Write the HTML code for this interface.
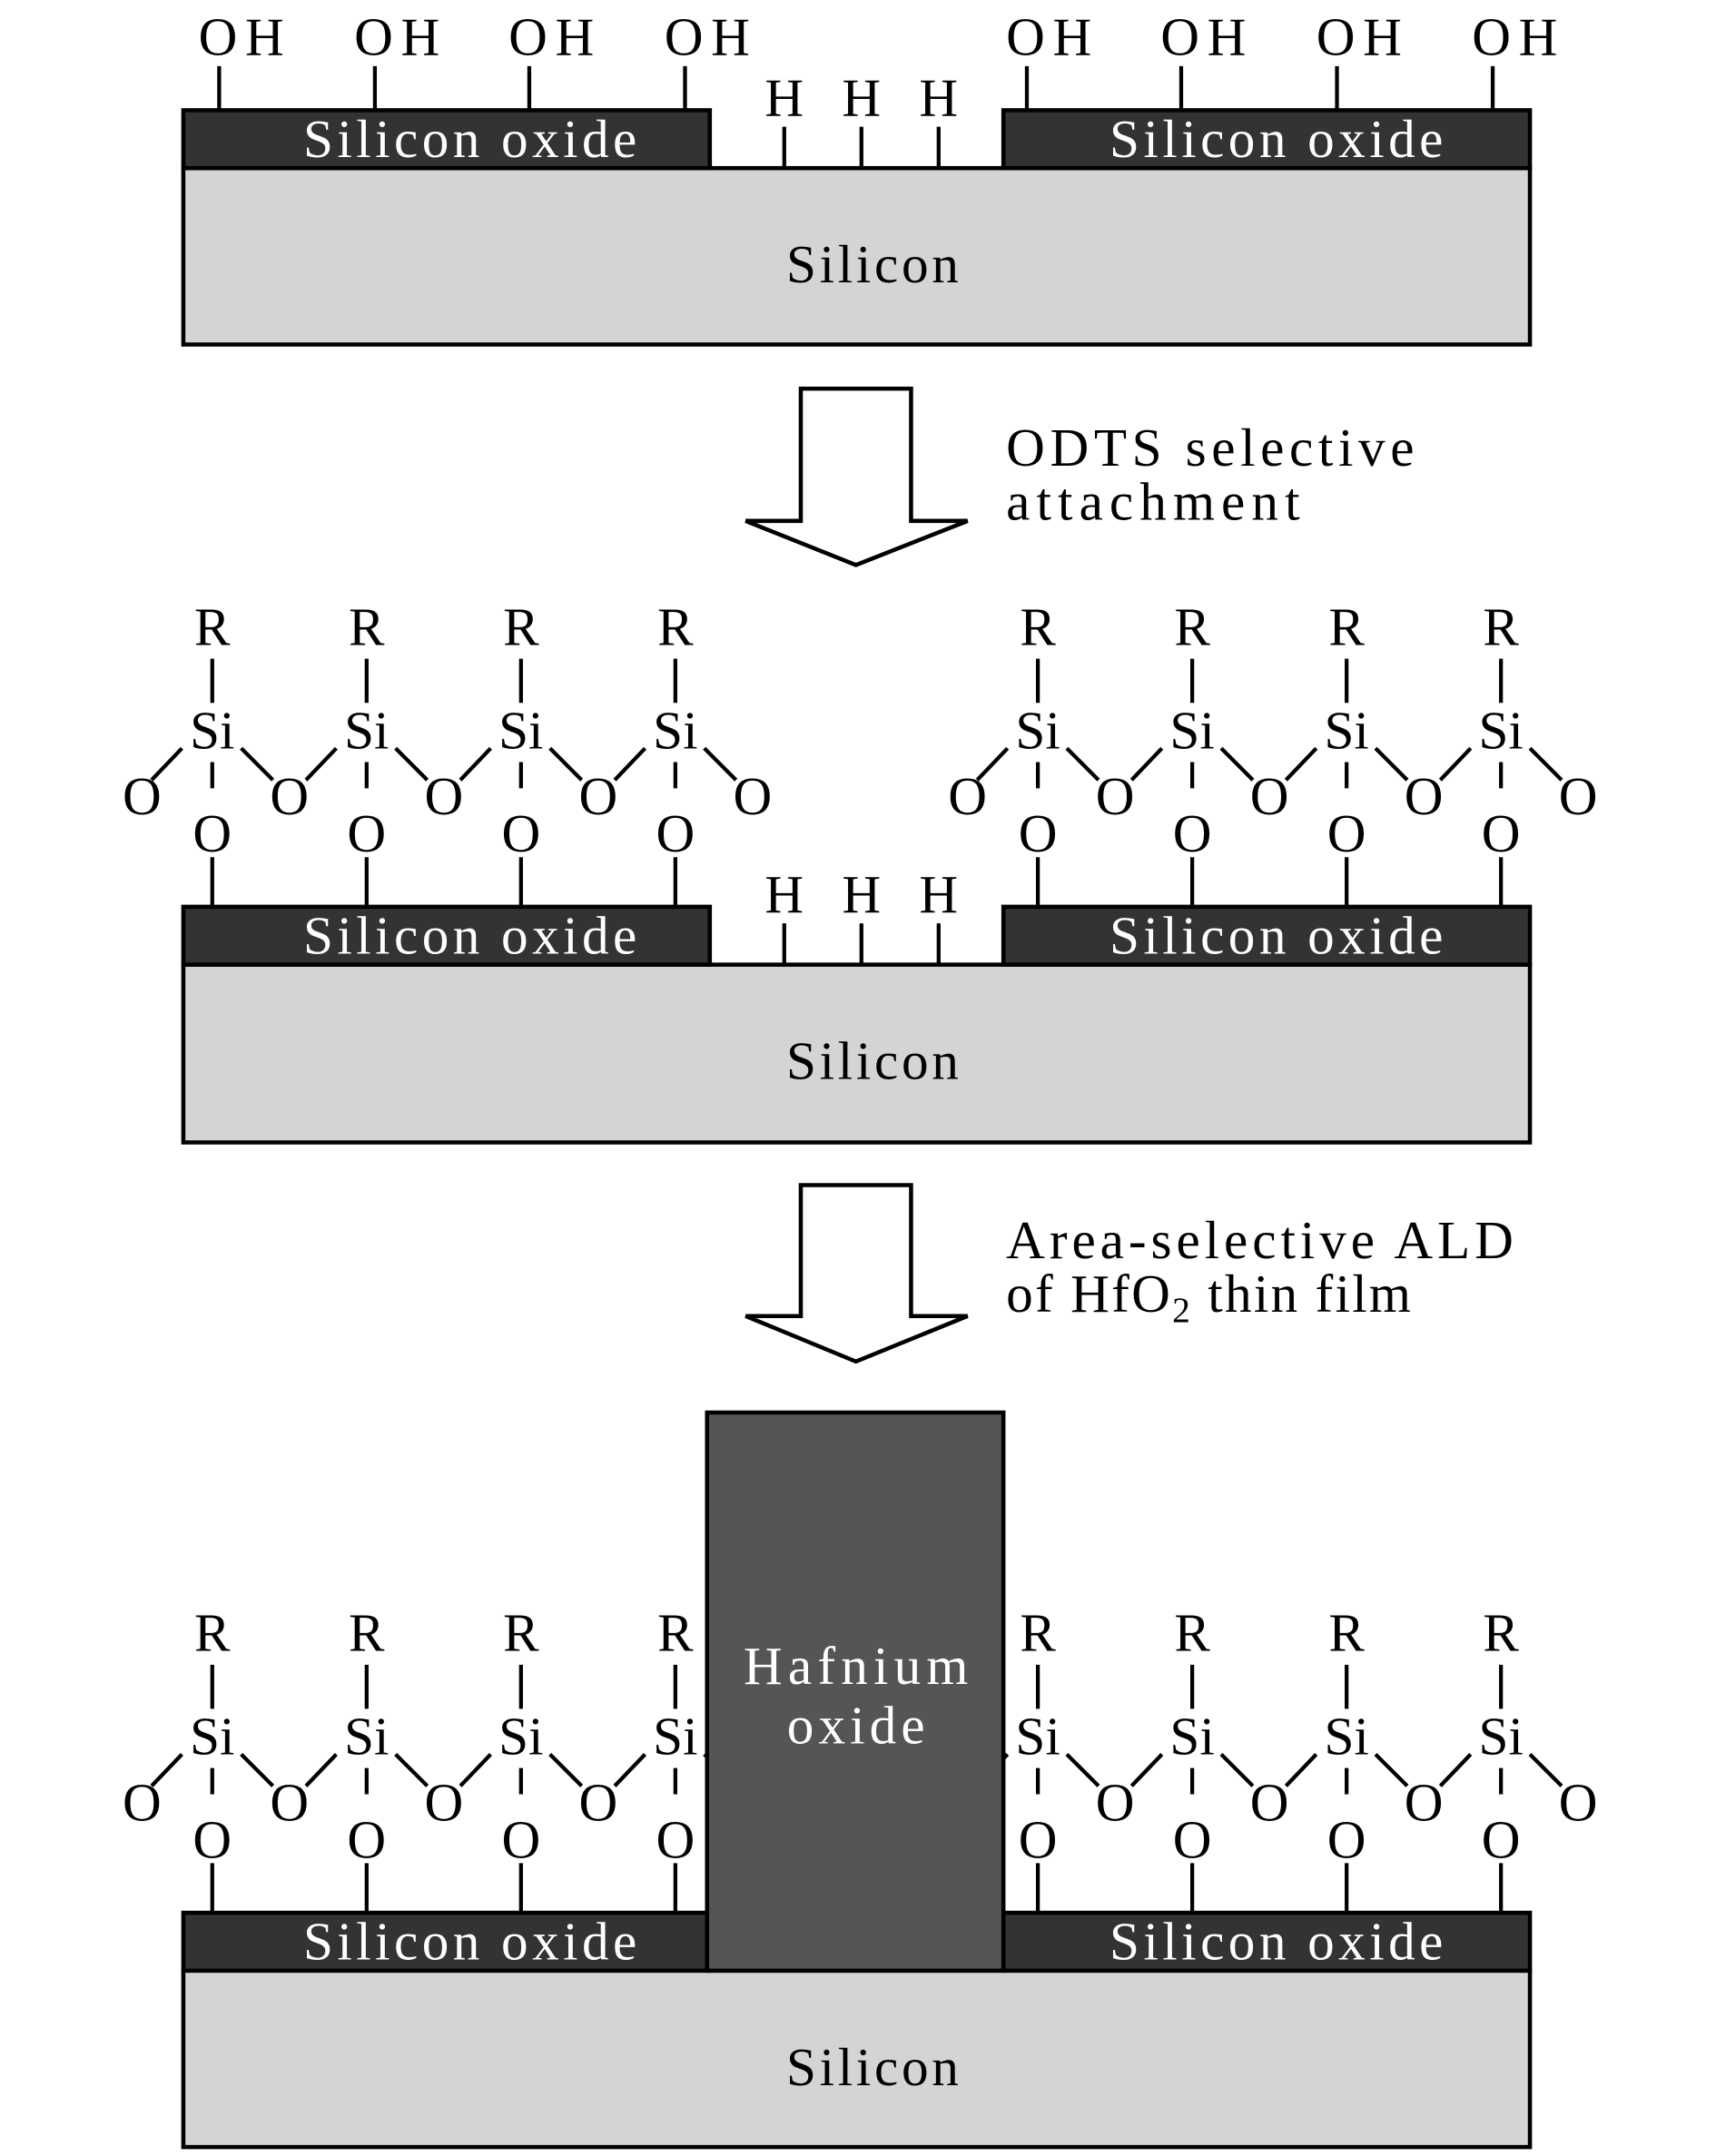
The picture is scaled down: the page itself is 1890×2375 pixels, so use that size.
<!DOCTYPE html>
<html><head><meta charset="utf-8"><style>
html,body{margin:0;padding:0;background:#fff;}
svg{display:block;}
text{font-family:"Liberation Serif",serif;font-size:39px;}
</style></head><body>
<svg width="1890" height="2375" viewBox="0 0 1245 1564.5" xmlns="http://www.w3.org/2000/svg">
<g stroke="#000" stroke-width="2.8" fill="none">
<line x1="159" y1="48" x2="159" y2="80"/><line x1="272" y1="48" x2="272" y2="80"/><line x1="384" y1="48" x2="384" y2="80"/><line x1="497" y1="48" x2="497" y2="80"/>
<line x1="745" y1="48" x2="745" y2="80"/><line x1="857" y1="48" x2="857" y2="80"/><line x1="970" y1="48" x2="970" y2="80"/><line x1="1083" y1="48" x2="1083" y2="80"/>
<line x1="569" y1="92" x2="569" y2="122"/><line x1="625" y1="92" x2="625" y2="122"/><line x1="681" y1="92" x2="681" y2="122"/>
</g>
<rect x="133" y="122" width="977" height="128" fill="#d4d4d4" stroke="#000" stroke-width="3"/>
<rect x="133" y="80" width="382" height="42" fill="#333" stroke="#000" stroke-width="3"/>
<rect x="728" y="80" width="382" height="42" fill="#333" stroke="#000" stroke-width="3"/>
<g text-anchor="middle" fill="#000">
<text x="175" y="40" textLength="62">OH</text><text x="288" y="40" textLength="62">OH</text><text x="400" y="40" textLength="62">OH</text><text x="513" y="40" textLength="62">OH</text>
<text x="761" y="40" textLength="62">OH</text><text x="873" y="40" textLength="62">OH</text><text x="986" y="40" textLength="62">OH</text><text x="1099" y="40" textLength="62">OH</text>
<text x="569" y="84">H</text><text x="625" y="84">H</text><text x="681" y="84">H</text>
<text x="633" y="205" textLength="125">Silicon</text>
</g>
<g text-anchor="middle" fill="#fff">
<text x="341" y="114" textLength="242">Silicon oxide</text>
<text x="926" y="114" textLength="242">Silicon oxide</text>
</g>
<polygon points="581,282 661,282 661,378 702,378 621,410 541,378 581,378" fill="#fff" stroke="#000" stroke-width="3"/>
<text x="730" y="338" textLength="296">ODTS selective</text>
<text x="730" y="377" textLength="213">attachment</text>

<g stroke="#000" stroke-width="2.8" fill="none">
<line x1="569" y1="670" x2="569" y2="700"/><line x1="625" y1="670" x2="625" y2="700"/><line x1="681" y1="670" x2="681" y2="700"/>
</g>
<rect x="133" y="700" width="977" height="129" fill="#d4d4d4" stroke="#000" stroke-width="3"/>
<rect x="133" y="658" width="382" height="42" fill="#333" stroke="#000" stroke-width="3"/>
<rect x="728" y="658" width="382" height="42" fill="#333" stroke="#000" stroke-width="3"/>
<g text-anchor="middle">
<text x="569" y="662">H</text><text x="625" y="662">H</text><text x="681" y="662">H</text>
<text x="633" y="783" textLength="125">Silicon</text>
</g>
<g text-anchor="middle" fill="#fff">
<text x="341" y="692" textLength="242">Silicon oxide</text>
<text x="926" y="692" textLength="242">Silicon oxide</text>
</g>

<g stroke="#000" stroke-width="2.8" fill="none">
<path d="M154 478V510M132 543L110 566M175 543L198 566M154 553V572M154 622V658
M266 478V510M244 543L222 566M287 543L310 566M266 553V572M266 622V658
M378 478V510M356 543L334 566M399 543L422 566M378 553V572M378 622V658
M490 478V510M468 543L446 566M511 543L534 566M490 553V572M490 622V658
M753 478V510M731 543L709 566M774 543L797 566M753 553V572M753 622V658
M865 478V510M843 543L821 566M886 543L909 566M865 553V572M865 622V658
M977 478V510M955 543L933 566M998 543L1021 566M977 553V572M977 622V658
M1089 478V510M1067 543L1045 566M1110 543L1133 566M1089 553V572M1089 622V658"/>
<path transform="translate(0,730)" d="M154 478V510M132 543L110 566M175 543L198 566M154 553V572M154 622V658
M266 478V510M244 543L222 566M287 543L310 566M266 553V572M266 622V658
M378 478V510M356 543L334 566M399 543L422 566M378 553V572M378 622V658
M490 478V510M468 543L446 566M511 543L534 566M490 553V572M490 622V658
M753 478V510M731 543L709 566M774 543L797 566M753 553V572M753 622V658
M865 478V510M843 543L821 566M886 543L909 566M865 553V572M865 622V658
M977 478V510M955 543L933 566M998 543L1021 566M977 553V572M977 622V658
M1089 478V510M1067 543L1045 566M1110 543L1133 566M1089 553V572M1089 622V658"/>
</g>
<g text-anchor="middle">
<text x="154" y="468">R</text><text x="266" y="468">R</text><text x="378" y="468">R</text><text x="490" y="468">R</text>
<text x="753" y="468">R</text><text x="865" y="468">R</text><text x="977" y="468">R</text><text x="1089" y="468">R</text>
<text x="154" y="543">Si</text><text x="266" y="543">Si</text><text x="378" y="543">Si</text><text x="490" y="543">Si</text>
<text x="753" y="543">Si</text><text x="865" y="543">Si</text><text x="977" y="543">Si</text><text x="1089" y="543">Si</text>
<text x="103" y="591">O</text><text x="210" y="591">O</text><text x="322" y="591">O</text><text x="434" y="591">O</text><text x="546" y="591">O</text>
<text x="702" y="591">O</text><text x="809" y="591">O</text><text x="921" y="591">O</text><text x="1033" y="591">O</text><text x="1145" y="591">O</text>
<text x="154" y="618">O</text><text x="266" y="618">O</text><text x="378" y="618">O</text><text x="490" y="618">O</text>
<text x="753" y="618">O</text><text x="865" y="618">O</text><text x="977" y="618">O</text><text x="1089" y="618">O</text>
</g>
<g text-anchor="middle" transform="translate(0,730)">
<text x="154" y="468">R</text><text x="266" y="468">R</text><text x="378" y="468">R</text><text x="490" y="468">R</text>
<text x="753" y="468">R</text><text x="865" y="468">R</text><text x="977" y="468">R</text><text x="1089" y="468">R</text>
<text x="154" y="543">Si</text><text x="266" y="543">Si</text><text x="378" y="543">Si</text><text x="490" y="543">Si</text>
<text x="753" y="543">Si</text><text x="865" y="543">Si</text><text x="977" y="543">Si</text><text x="1089" y="543">Si</text>
<text x="103" y="591">O</text><text x="210" y="591">O</text><text x="322" y="591">O</text><text x="434" y="591">O</text><text x="546" y="591">O</text>
<text x="702" y="591">O</text><text x="809" y="591">O</text><text x="921" y="591">O</text><text x="1033" y="591">O</text><text x="1145" y="591">O</text>
<text x="154" y="618">O</text><text x="266" y="618">O</text><text x="378" y="618">O</text><text x="490" y="618">O</text>
<text x="753" y="618">O</text><text x="865" y="618">O</text><text x="977" y="618">O</text><text x="1089" y="618">O</text>
</g>

<polygon points="581,860 661,860 661,955 702,955 621,988 541,955 581,955" fill="#fff" stroke="#000" stroke-width="3"/>
<text x="730" y="913" textLength="368">Area-selective ALD</text>
<text x="730" y="952" letter-spacing="1.5">of HfO<tspan font-size="26" dy="7">2</tspan><tspan dy="-7"> thin film</tspan></text>

<rect x="133" y="1430" width="977" height="128" fill="#d4d4d4" stroke="#000" stroke-width="3"/>
<rect x="133" y="1388" width="382" height="42" fill="#333" stroke="#000" stroke-width="3"/>
<rect x="728" y="1388" width="382" height="42" fill="#333" stroke="#000" stroke-width="3"/>
<rect x="513" y="1025" width="215" height="405" fill="#555" stroke="#000" stroke-width="3"/>
<g text-anchor="middle" fill="#fff">
<text x="341" y="1422" textLength="242">Silicon oxide</text>
<text x="926" y="1422" textLength="242">Silicon oxide</text>
<text x="621" y="1222" textLength="163">Hafnium</text>
<text x="621" y="1265" textLength="100">oxide</text>
</g>
<text x="633" y="1513" text-anchor="middle" textLength="125">Silicon</text>
</svg>
</body></html>
